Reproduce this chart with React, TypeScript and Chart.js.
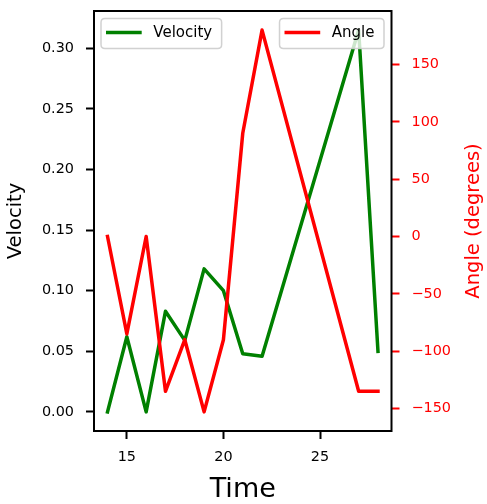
import React, { useEffect, useRef } from "react";
import { Chart, registerables } from "chart.js";

Chart.register(...registerables);

const times = [14, 15, 16, 17, 18, 19, 20, 21, 22, 27, 28];
const velocity = [0.0, 0.062, 0.0, 0.083, 0.059, 0.118, 0.1, 0.048, 0.046, 0.315, 0.05];
const angle = [0, -85, 0, -135, -90, -153, -90, 90, 180, -135, -135];

const xTicks = [15, 20, 25];
const velocityTicks = [0, 0.05, 0.1, 0.15, 0.2, 0.25, 0.3];
const angleTicks = [-150, -100, -50, 0, 50, 100, 150];

const GREEN = "#008000";
const RED = "#ff0000";
const FONT = "'DejaVu Sans', sans-serif";

function padded(vals: number[]) {
  const lo = Math.min(...vals);
  const hi = Math.max(...vals);
  const m = (hi - lo) * 0.05;
  return { min: lo - m, max: hi + m };
}

function drawLegend(ctx: CanvasRenderingContext2D, x: number, y: number, label: string, color: string, anchorRight: boolean) {
  ctx.font = `15px ${FONT}`;
  const tw = ctx.measureText(label).width;
  const w = 5 + 35.7 + 11.6 + tw + 9.5;
  const h = 30;
  const left = anchorRight ? x - w : x;
  const r = 4;
  ctx.beginPath();
  ctx.moveTo(left + r, y);
  ctx.lineTo(left + w - r, y);
  ctx.quadraticCurveTo(left + w, y, left + w, y + r);
  ctx.lineTo(left + w, y + h - r);
  ctx.quadraticCurveTo(left + w, y + h, left + w - r, y + h);
  ctx.lineTo(left + r, y + h);
  ctx.quadraticCurveTo(left, y + h, left, y + h - r);
  ctx.lineTo(left, y + r);
  ctx.quadraticCurveTo(left, y, left + r, y);
  ctx.closePath();
  ctx.fillStyle = "rgba(255,255,255,0.8)";
  ctx.fill();
  ctx.strokeStyle = "rgba(204,204,204,0.9)";
  ctx.lineWidth = 1.5;
  ctx.stroke();
  ctx.beginPath();
  ctx.moveTo(left + 5, y + h / 2 - 1);
  ctx.lineTo(left + 5 + 35.7, y + h / 2 - 1);
  ctx.strokeStyle = color;
  ctx.lineWidth = 3.5;
  ctx.lineCap = "butt";
  ctx.stroke();
  ctx.fillStyle = "#000";
  ctx.textAlign = "left";
  ctx.textBaseline = "middle";
  ctx.fillText(label, left + 5 + 35.7 + 11.6, y + h / 2);
}

const overlay = {
  id: "overlay",
  afterDatasetsDraw(chart: any) {
    const { ctx, chartArea: a } = chart;
    ctx.save();
    ctx.strokeStyle = "#000";
    ctx.lineWidth = 2;
    ctx.strokeRect(a.left, a.top, a.right - a.left, a.bottom - a.top);

    drawLegend(ctx, a.left + 7, a.top + 7.5, "Velocity", GREEN, false);
    drawLegend(ctx, a.right - 7.5, a.top + 7.5, "Angle", RED, true);

    const cy = (a.top + a.bottom) / 2;
    ctx.textAlign = "center";
    ctx.textBaseline = "middle";
    ctx.font = `19.5px ${FONT}`;
    ctx.fillStyle = "#000";
    ctx.save();
    ctx.translate(16, cy);
    ctx.rotate(-Math.PI / 2);
    ctx.fillText("Velocity", 0, 0);
    ctx.restore();

    ctx.fillStyle = RED;
    ctx.save();
    ctx.translate(474, cy);
    ctx.rotate(-Math.PI / 2);
    ctx.fillText("Angle (degrees)", 0, 0);
    ctx.restore();

    ctx.fillStyle = "#000";
    ctx.font = `27px ${FONT}`;
    ctx.textBaseline = "alphabetic";
    ctx.fillText("Time", (a.left + a.right) / 2, 497);
    ctx.restore();
  },
};

export default function App() {
  const ref = useRef<HTMLCanvasElement>(null);

  useEffect(() => {
    if (!ref.current) return;
    const xr = padded(times);
    const vr = padded(velocity);
    const ar = padded(angle);
    const tickFont = { family: FONT, size: 14.4 };
    const noPad = (s: any) => {
      s.paddingTop = 0;
      s.paddingBottom = 0;
      s.paddingLeft = 0;
      s.paddingRight = 0;
    };
    const chart = new Chart(ref.current, {
      type: "line",
      data: {
        datasets: [
          {
            label: "Velocity",
            data: times.map((t, i) => ({ x: t, y: velocity[i] })),
            borderColor: GREEN,
            backgroundColor: GREEN,
            borderWidth: 3.5,
            pointRadius: 0,
            tension: 0,
            yAxisID: "y",
            order: 2,
            borderJoinStyle: "round",
            borderCapStyle: "square",
          },
          {
            label: "Angle",
            data: times.map((t, i) => ({ x: t, y: angle[i] })),
            borderColor: RED,
            backgroundColor: RED,
            borderWidth: 3.5,
            pointRadius: 0,
            tension: 0,
            yAxisID: "y2",
            order: 1,
            borderJoinStyle: "round",
            borderCapStyle: "square",
          },
        ],
      },
      options: {
        animation: false,
        responsive: false,
        devicePixelRatio: 1,
        layout: { padding: { top: 11, left: 0, right: 0, bottom: 0 } },
        plugins: { legend: { display: false }, tooltip: { enabled: false } },
        scales: {
          x: {
            type: "linear",
            position: "bottom",
            min: xr.min,
            max: xr.max,
            afterBuildTicks: (s: any) => {
              s.ticks = xTicks.map((v) => ({ value: v }));
            },
            afterFit: (s: any) => {
              s.height = 73;
              noPad(s);
            },
            ticks: {
              font: tickFont,
              color: "#000",
              padding: 10,
              maxRotation: 0,
              autoSkip: false,
              callback: (v: any) => String(v),
            },
            grid: { drawOnChartArea: false, tickLength: 8, tickWidth: 2, color: "#000" },
            border: { display: false },
          },
          y: {
            type: "linear",
            position: "left",
            min: vr.min,
            max: vr.max,
            afterBuildTicks: (s: any) => {
              s.ticks = velocityTicks.map((v) => ({ value: v }));
            },
            afterFit: (s: any) => {
              s.width = 94;
              noPad(s);
            },
            ticks: {
              font: tickFont,
              color: "#000",
              padding: 12,
              autoSkip: false,
              callback: (v: any) => Number(v).toFixed(2),
            },
            grid: { drawOnChartArea: false, tickLength: 8, tickWidth: 2, color: "#000" },
            border: { display: false },
          },
          y2: {
            type: "linear",
            position: "right",
            min: ar.min,
            max: ar.max,
            afterBuildTicks: (s: any) => {
              s.ticks = angleTicks.map((v) => ({ value: v }));
            },
            afterFit: (s: any) => {
              s.width = 95.5;
              noPad(s);
            },
            ticks: {
              font: tickFont,
              color: RED,
              padding: 12,
              autoSkip: false,
              callback: (v: any) => (Number(v) < 0 ? "\u2212" + Math.abs(Number(v)) : String(v)),
            },
            grid: { drawOnChartArea: false, tickLength: 8, tickWidth: 2, color: RED },
            border: { display: false },
          },
        },
      },
      plugins: [overlay],
    } as any);
    return () => chart.destroy();
  }, []);

  return (
    <div style={{ position: "absolute", left: 0, top: 0, width: 487, height: 504 }}>
      <canvas ref={ref} width={487} height={504} style={{ display: "block" }} />
    </div>
  );
}
